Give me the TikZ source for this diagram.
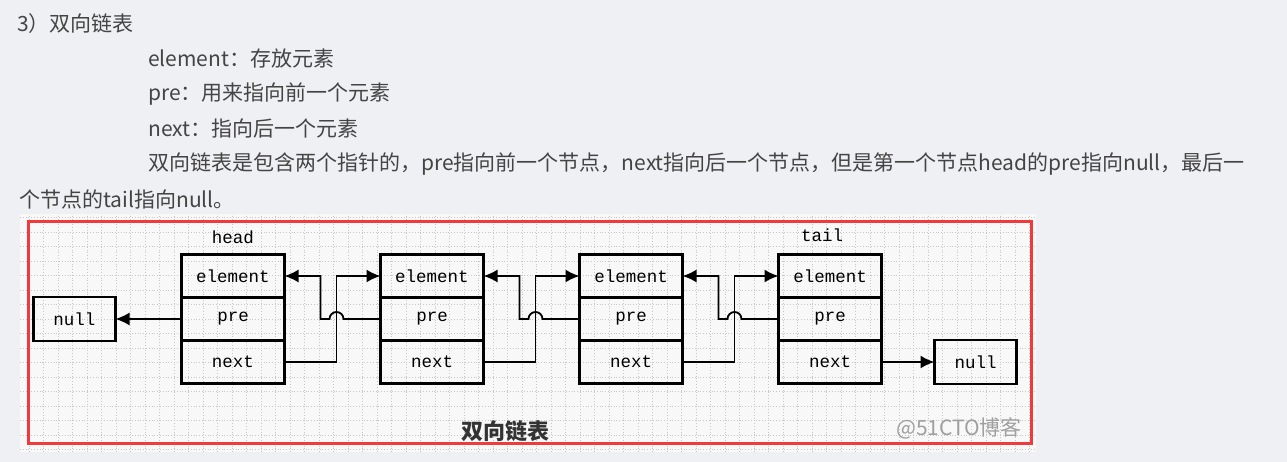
\documentclass[tikz,border=0pt]{standalone}
\usepackage{fontspec}
\setmainfont{Noto Sans CJK SC}
\setmonofont{Liberation Mono}
\usepackage{tikz}
\usetikzlibrary{positioning,arrows.meta}

\definecolor{pagebg}{HTML}{EEF0F4}
\definecolor{gridbg}{HTML}{F8F8F8}
\definecolor{textgray}{HTML}{444444}
\definecolor{framered}{HTML}{F03A3C}

\begin{document}
\begin{tikzpicture}[
    x=1pt, y=-1pt,
    node distance=96pt,
    field/.style={draw, line width=2.8pt, outer sep=0pt, minimum width=103pt, minimum height=43pt, font=\ttfamily\fontsize{17.5}{17.5}\selectfont},
    nullbox/.style={field, minimum width=82pt, minimum height=44pt},
    tag/.style={inner sep=1pt, font=\ttfamily\fontsize{17.5}{17.5}\selectfont},
    link/.style={line width=1.8pt, -{Latex[length=14pt,width=13pt]}},
    textline/.style={textgray, anchor=west, inner sep=0pt, font=\fontsize{21}{21}\selectfont}
]
\useasboundingbox (0,0) rectangle (1287,462);
\fill[pagebg] (0,0) rectangle (1287,462);

% Text above the picture
\node[textline] (title) at (17,24) {3）双向链表};
\node[textline] (lineElem) at (148,59) {element：存放元素};
\node[textline] (linePre) at (148,94) {pre：用来指向前一个元素};
\node[textline] (lineNext) at (148,129) {next：指向后一个元素};
\node[textline] (lineLong) at (148,164) {双向链表是包含两个指针的，pre指向前一个节点，next指向后一个节点，但是第一个节点head的pre指向null，最后一};
\node[textline] (lineLast) at (19,199) {个节点的tail指向null。};

% Grid paper and frame
\fill[gridbg] (20,214) rectangle (1036,452);
\draw[gray!45, dotted, line width=0.8pt, step=14.5pt] (20,214) grid (1036,452);
\draw[framered, line width=3pt] (28,222) rectangle (1031,443);

% Nodes
\node[field] (headElem) at (233,276) {element};
\node[field, below=0pt of headElem] (headPre) {pre};
\node[field, below=0pt of headPre] (headNext) {next};

\node[field, right=of headElem] (midAElem) {element};
\node[field, below=0pt of midAElem] (midAPre) {pre};
\node[field, below=0pt of midAPre] (midANext) {next};

\node[field, right=of midAElem] (midBElem) {element};
\node[field, below=0pt of midBElem] (midBPre) {pre};
\node[field, below=0pt of midBPre] (midBNext) {next};

\node[field, right=of midBElem] (tailElem) {element};
\node[field, below=0pt of tailElem] (tailPre) {pre};
\node[field, below=0pt of tailPre] (tailNext) {next};

\node[nullbox, left=66pt of headPre] (nullLeft) {null};
\node[nullbox, right=53pt of tailNext] (nullRight) {null};

\node[tag, above=10pt of headElem] (headTag) {head};
\node[tag, above=12pt of tailElem, xshift=-8pt] (tailTag) {tail};

% Arrows between the nodes
\draw[link] (headPre.west) -- (nullLeft.east);
\draw[link] (tailNext.east) -- (nullRight.west);

\foreach \a/\b/\n in {head/midA/1, midA/midB/2, midB/tail/3} {
    \coordinate (hop\n) at ([xshift=52pt]\a Next.east |- \a Pre.east);
    \draw[link] (\a Next.east) -- ++(52,0) |- (\b Elem.west);
    \draw[link] (\b Pre.west) -- ([xshift=7pt]hop\n)
        arc[start angle=0, end angle=180, radius=7pt]
        -- ([xshift=-16pt]hop\n) |- (\a Elem.east);
}

% Caption and watermark
\node[font=\bfseries\fontsize{22}{22}\selectfont, text=black!80] (caption) at (505,431) {双向链表};
\node[font=\fontsize{21}{21}\selectfont, text=gray!75] (mark) at (959,428) {@51CTO博客};

\end{tikzpicture}
\end{document}
